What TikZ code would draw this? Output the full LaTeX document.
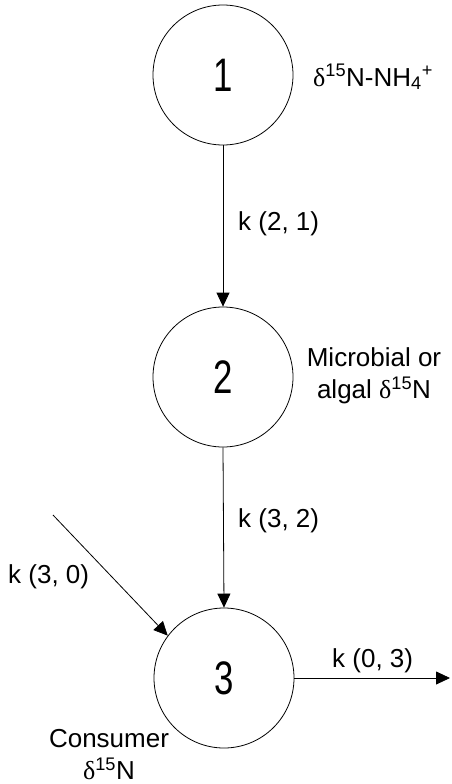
\documentclass[tikz,border=0pt]{standalone}
\usepackage{fontspec}
\setmainfont{Liberation Sans}
\newfontfamily\greekfont{Liberation Serif}
\usepackage{tikz}
\usetikzlibrary{arrows.meta}
\newcommand{\dN}{{\greekfont δ}\textsuperscript{15}N}
\newcommand{\poolnum}[1]{\scalebox{0.74}[1]{\fontsize{47}{50}\selectfont #1}}

\begin{document}
\begin{tikzpicture}[x=1pt,y=-1pt,
  pool/.style={draw,circle,line width=0.8pt,minimum size=140pt,inner sep=0pt},
  lbl/.style={inner sep=0pt,font=\fontsize{26}{32}\selectfont},
  flow/.style={line width=0.8pt,-{Triangle[width=13pt,length=14pt]}}]
\useasboundingbox (0,0) rectangle (451,784);
% pools
\node [pool] (p1) at (223,75) {\poolnum{1}};
\node [pool] (p2) at (223,377) {\poolnum{2}};
\node [pool] (p3) at (224,678) {\poolnum{3}};
% pool labels
\node [lbl,anchor=base west] (l1) at (313,86) {\dN-NH\textsubscript{4}\textsuperscript{+}};
\node [lbl,anchor=north,align=center] (l2) at (374,347) {Microbial or\\algal \dN};
\node [lbl,anchor=north,align=center] (l3) at (109,729) {Consumer\\\dN};
% fluxes
\coordinate (src) at (53,515);
\coordinate (sink) at (450,678);
\draw [flow] (p1.south) -- (p2.north);
\draw [flow] (p2.south) -- (p3.north);
\draw [flow] (src) -- (p3.143);
\draw [flow] (p3.east) -- (sink);
\node [lbl,anchor=base west] (k21) at (238,230) {k (2, 1)};
\node [lbl,anchor=base west] (k32) at (238,527) {k (3, 2)};
\node [lbl,anchor=base west] (k30) at (8,583) {k (3, 0)};
\node [lbl,anchor=base west] (k03) at (332,667) {k (0, 3)};
\end{tikzpicture}
\end{document}
